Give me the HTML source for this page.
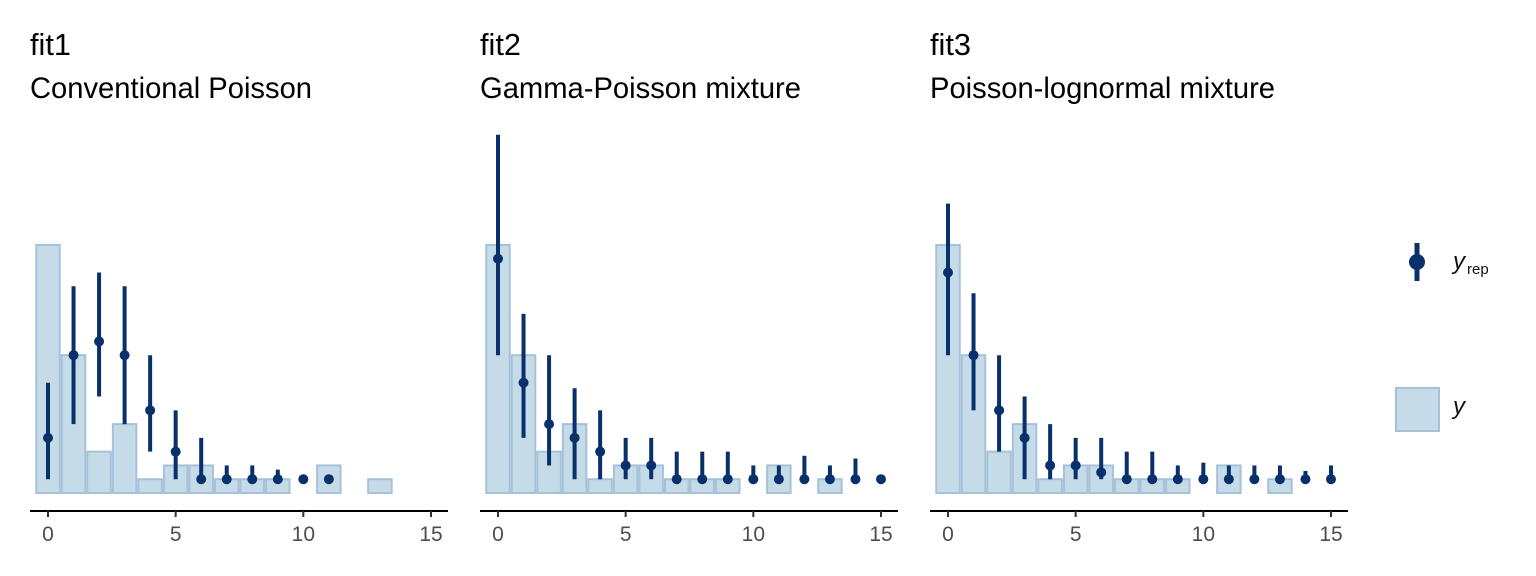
<!DOCTYPE html>
<html><head><meta charset="utf-8"><style>
body{margin:0;background:#fff;}
svg{display:block;font-family:"Liberation Sans",Arial,sans-serif;}
</style></head><body>
<svg id="chart" width="1536" height="576" xmlns="http://www.w3.org/2000/svg">
<g id="legend">
  <g>
    <line x1="1417" y1="243" x2="1417" y2="281" stroke="#08306b" stroke-width="5"/>
    <circle cx="1417" cy="262" r="8" fill="#08306b"/>
    <text x="1453" y="269" font-size="24" font-style="italic" fill="#111">y</text>
    <text x="1467" y="274" font-size="15" fill="#111">rep</text>
  </g>
  <g>
    <rect x="1396" y="388" width="43" height="43" fill="#c6dbe8" stroke="#a5c2da" stroke-width="2"/>
    <text x="1453" y="414" font-size="24" font-style="italic" fill="#111">y</text>
  </g>
</g>
</svg>
<script>
const categories = [0,1,2,3,4,5,6,7,8,9,10,11,12,13,14,15];
const yCounts = [18,10,3,5,1,2,2,1,1,1,0,2,0,1,0,0];
const panelNames = ["fit1","fit2","fit3"];
const panelSubtitles = ["Conventional Poisson","Gamma-Poisson mixture","Poisson-lognormal mixture"];
const fit1Median = [4,10,11,10,6,3,1,1,1,1,1,1,null,null,null,null];
const fit1Low    = [1,5,7,5,3,1,1,1,1,1,1,1,null,null,null,null];
const fit1High   = [8,15,16,15,10,6,4,2,2,1.7,1,1,null,null,null,null];
const fit2Median = [17,8,5,4,3,2,2,1,1,1,1,1,1,1,1,1];
const fit2Low    = [10,4,2,1,1,1,1,1,1,1,1,1,1,1,1,1];
const fit2High   = [26,13,10,7.6,6,4,4,3,3,3,2,2,2.7,2,2.5,1];
const fit3Median = [16,10,6,4,2,2,1.5,1,1,1,1,1,1,1,1,1];
const fit3Low    = [10,6,3,1,1,1,1,1,1,1,1,1,1,1,1,1];
const fit3High   = [21,14.5,10,7,5,4,4,3,3,2,2.2,2,2,2,1.6,2];
const xTicks = [0,5,10,15];

const medians=[fit1Median,fit2Median,fit3Median], lows=[fit1Low,fit2Low,fit3Low], highs=[fit1High,fit2High,fit3High];
const NS="http://www.w3.org/2000/svg";
const svg=document.getElementById('chart');
function mk(tag,attrs,parent){const e=document.createElementNS(NS,tag);for(const k in attrs)e.setAttribute(k,attrs[k]);parent.appendChild(e);return e;}
const unitX=383/15, unitY=13.78, base=493;
const subWidths=[282,321,345];
for(let p=0;p<3;p++){
  const x0=48+450*p;
  const xs=v=>x0+v*unitX;
  const ys=v=>base-v*unitY;
  const g=mk('g',{},svg);
  
  
  const t=mk('text',{x:x0-18,y:55,'font-size':31,fill:'#000',textLength:41,lengthAdjust:'spacingAndGlyphs'},g);t.textContent=panelNames[p];
  
  
  const s=mk('text',{x:x0-18,y:98,'font-size':30,fill:'#000',textLength:subWidths[p],lengthAdjust:'spacingAndGlyphs'},g);s.textContent=panelSubtitles[p];
  
  
  categories.forEach((c,i)=>{
    if(yCounts[i]>0){
      const w=0.92*unitX;
      const r=mk('rect',{x:xs(c)-w/2,y:ys(yCounts[i]),width:w,height:yCounts[i]*unitY,fill:'#c6dbe8',stroke:'#a5c2da','stroke-width':2},g);
      
      
    }
  });
  categories.forEach((c,i)=>{
    if(medians[p][i]==null)return;
    const l=mk('line',{x1:xs(c),x2:xs(c),y1:ys(lows[p][i]),y2:ys(highs[p][i]),stroke:'#08306b','stroke-width':4},g);
    
    
    const d=mk('circle',{cx:xs(c),cy:ys(medians[p][i]),r:5,fill:'#08306b'},g);
    
    
  });
  const ax=mk('line',{x1:x0-18,x2:x0+400,y1:511,y2:511,stroke:'#000','stroke-width':2},g);
  
  
  xTicks.forEach(v=>{
    const tk=mk('line',{x1:xs(v),x2:xs(v),y1:511,y2:517,stroke:'#333','stroke-width':2},g);
    
    
    const tl=mk('text',{x:xs(v),y:541,'font-size':21,fill:'#4d4d4d','text-anchor':'middle'},g);tl.textContent=v;
    
    
  });
}
</script>
</body></html>
